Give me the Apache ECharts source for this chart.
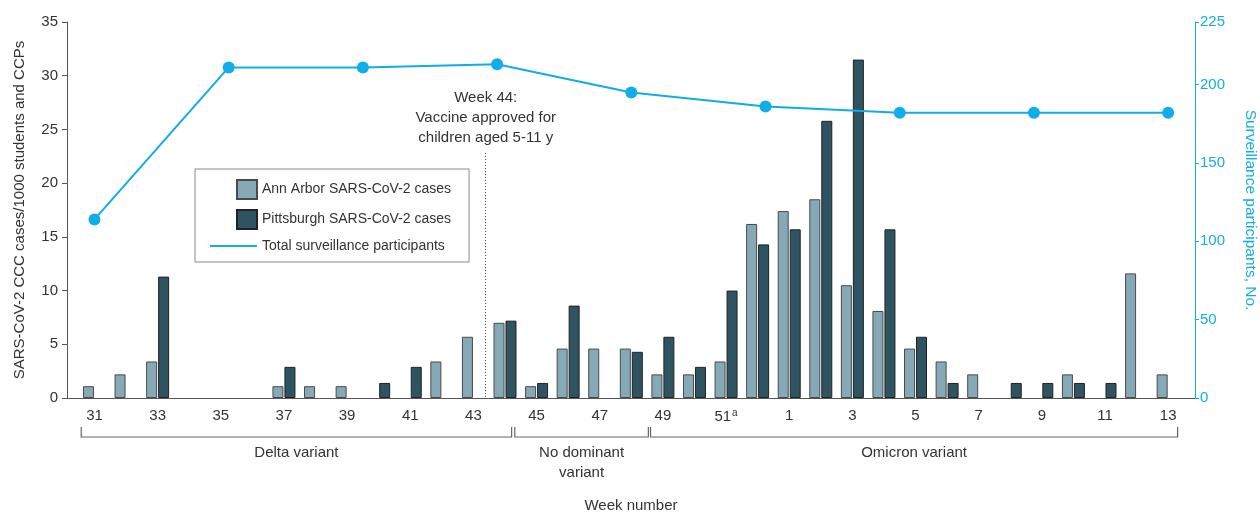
<!DOCTYPE html>
<html>
<head>
<meta charset="utf-8">
<script src="https://cdn.jsdelivr.net/npm/echarts@6/dist/echarts.min.js"></script>
<style>
  html, body { margin: 0; padding: 0; background: #ffffff; }
  #chart { width: 1260px; height: 512px; }
</style>
</head>
<body>
<div id="chart"></div>
<script>
// Week numbers, from week 31 through week 13 of the following year
const weekLabels = ['31','32','33','34','35','36','37','38','39','40','41','42','43','44','45','46','47','48','49','50','51','52',
                    '1','2','3','4','5','6','7','8','9','10','11','12','13'];

// Weekly SARS-CoV-2 CCC cases per 1000 students and CCPs (null = no cases)
const annArborCases = [1.1, 2.2, 3.4, null, null, null, 1.1, 1.1, 1.1, null, null, 3.4, 5.7, 7.0, 1.1, 4.6, 4.6, 4.6, 2.2, 2.2, 3.4, 16.2,
                       17.4, 18.5, 10.5, 8.1, 4.6, 3.4, 2.2, null, null, 2.2, null, 11.6, 2.2];
const pittsburghCases = [null, null, 11.3, null, null, null, 2.9, null, null, 1.4, 2.9, null, null, 7.2, 1.4, 8.6, null, 4.3, 5.7, 2.9, 10.0, 14.3,
                         15.7, 25.8, 31.5, 15.7, 5.7, 1.4, null, 1.4, 1.4, 1.4, 1.4, null, null];

// Total surveillance participants, placed along the week index
const participantWeekPos = [0, 4.25, 8.5, 12.75, 17, 21.25, 25.5, 29.75, 34];
const surveillanceParticipants = [114, 211, 211, 213, 195, 186, 182, 182, 182];

// Axis ticks
const weekTickIndex = [0, 2, 4, 6, 8, 10, 12, 14, 16, 18, 20, 22, 24, 26, 28, 30, 32, 34];
const rightTickValues = [0, 50, 100, 150, 200, 240];
const rightTickLabels = ['0', '50', '100', '150', '200', '225'];

// Dominant-variant periods (week index span)
const phaseNames = ['Delta variant', 'No dominant\nvariant', 'Omicron variant'];
const phaseStart = [-0.42, 13.31, 17.61];
const phaseEnd = [13.21, 17.54, 34.3];

// Week 44 vaccine approval marker
const vaccineEdge = 12.58;
const vaccineNote = 'Week 44:\nVaccine approved for\nchildren aged 5-11 y';

const FONT = '"Liberation Sans", Arial, sans-serif';
const TEXT = '#333333';
const AXIS = '#555555';
const BLUE = '#10ADE8';

const chart = echarts.init(document.getElementById('chart'), null, { renderer: 'canvas' });

const toPairs = arr => arr.map((v, i) => [i, v]);

const option = {
  animation: false,
  textStyle: { fontFamily: FONT },
  grid: { left: 67, right: 65, top: 22, bottom: 114, containLabel: false, outerBoundsMode: 'none' },
  legend: {
    orient: 'vertical',
    left: 195,
    top: 169,
    padding: [10, 18, 9, 14],
    itemGap: 9,
    itemWidth: 47,
    itemHeight: 19,
    borderColor: '#8a8a8a',
    borderWidth: 1,
    backgroundColor: '#ffffff',
    textStyle: { fontFamily: FONT, fontSize: 14, color: TEXT },
    selectedMode: false,
    data: [
      { name: 'Ann Arbor SARS-CoV-2 cases', icon: 'path://M0,0M27,0h20v19h-20z' },
      { name: 'Pittsburgh SARS-CoV-2 cases', icon: 'path://M0,0M27,0h20v19h-20z' },
      { name: 'Total surveillance participants', icon: 'path://M0,8.5h47v2h-47z' }
    ]
  },
  xAxis: {
    type: 'value',
    min: -0.87,
    max: 34.85,
    name: 'Week number',
    nameLocation: 'middle',
    nameGap: 100,
    nameTextStyle: { fontFamily: FONT, fontSize: 15, color: TEXT },
    axisLine: { show: true, onZero: false, lineStyle: { color: AXIS, width: 1 } },
    axisTick: { show: false },
    splitLine: { show: false },
    axisLabel: {
      customValues: weekTickIndex,
      margin: 10,
      fontFamily: FONT,
      fontSize: 15,
      color: TEXT,
      formatter: v => {
        const w = weekLabels[Math.round(v)];
        return w === '51' ? '51{sup|a}' : w;
      },
      rich: { sup: { fontSize: 10, verticalAlign: 'bottom', padding: [0, 0, 8, 1], color: TEXT, fontFamily: FONT } }
    }
  },
  yAxis: [
    {
      type: 'value',
      min: 0,
      max: 35,
      interval: 5,
      name: 'SARS-CoV-2 CCC cases/1000 students and CCPs',
      nameLocation: 'middle',
      nameRotate: 90,
      nameGap: 40,
      nameTextStyle: { fontFamily: FONT, fontSize: 15, color: TEXT },
      axisLine: { show: true, onZero: false, lineStyle: { color: AXIS, width: 1 } },
      axisTick: { show: true, length: 5, lineStyle: { color: AXIS } },
      splitLine: { show: false },
      axisLabel: { fontFamily: FONT, fontSize: 15, color: TEXT, margin: 9 }
    },
    {
      type: 'value',
      min: 0,
      max: 240,
      position: 'right',
      name: 'Surveillance participants, No.',
      nameLocation: 'middle',
      nameRotate: -90,
      nameGap: 47,
      nameTextStyle: { fontFamily: FONT, fontSize: 15.5, color: BLUE },
      axisLine: { show: true, onZero: false, lineStyle: { color: BLUE, width: 1 } },
      axisTick: { show: true, length: 4, customValues: rightTickValues, lineStyle: { color: BLUE } },
      splitLine: { show: false },
      axisLabel: {
        customValues: rightTickValues,
        fontFamily: FONT, fontSize: 15, color: BLUE, margin: 5,
        formatter: v => rightTickLabels[rightTickValues.indexOf(v)]
      }
    }
  ],
  series: [
    {
      name: 'Ann Arbor SARS-CoV-2 cases',
      type: 'bar',
      yAxisIndex: 0,
      barWidth: 11,
      barGap: '9%',
      data: toPairs(annArborCases),
      itemStyle: { color: '#86A9B7', borderColor: '#4a4a4a', borderWidth: 1 },
      markLine: {
        silent: true,
        symbol: 'none',
        label: { show: false },
        lineStyle: { type: [1, 2], color: '#444444', width: 1 },
        data: [[{ coord: [vaccineEdge, 22.8] }, { coord: [vaccineEdge, 0] }]]
      },
      markPoint: {
        silent: true,
        symbol: 'circle',
        symbolSize: 0,
        data: [{ coord: [vaccineEdge, 26.05] }],
        label: {
          show: true,
          position: 'inside',
          formatter: vaccineNote,
          fontFamily: FONT,
          fontSize: 15,
          lineHeight: 20,
          color: TEXT,
          align: 'center'
        }
      }
    },
    {
      name: 'Pittsburgh SARS-CoV-2 cases',
      type: 'bar',
      yAxisIndex: 0,
      barWidth: 11,
      barGap: '9%',
      data: toPairs(pittsburghCases),
      itemStyle: { color: '#2E5462', borderColor: '#222222', borderWidth: 1 }
    },
    {
      name: 'Total surveillance participants',
      type: 'line',
      yAxisIndex: 1,
      data: participantWeekPos.map((x, i) => [x, surveillanceParticipants[i]]),
      symbol: 'circle',
      symbolSize: 12,
      lineStyle: { color: BLUE, width: 2 },
      itemStyle: { color: BLUE },
      z: 5
    },
    {
      // Brackets and labels for the dominant-variant periods, drawn under the week axis
      name: 'phases',
      type: 'custom',
      coordinateSystem: 'cartesian2d',
      silent: true,
      clip: false,
      encode: { x: [0, 1], y: 2 },
      data: phaseNames.map((n, i) => [phaseStart[i], phaseEnd[i], 0]),
      renderItem: (params, api) => {
        const a = api.coord([api.value(0), 0]);
        const b = api.coord([api.value(1), 0]);
        const y0 = a[1];
        return {
          type: 'group',
          children: [
            {
              type: 'polyline',
              shape: { points: [[a[0], y0 + 29], [a[0], y0 + 39], [b[0], y0 + 39], [b[0], y0 + 29]] },
              style: { stroke: '#666666', lineWidth: 1.2, fill: null }
            },
            {
              type: 'text',
              style: {
                x: (a[0] + b[0]) / 2,
                y: y0 + 45,
                text: phaseNames[params.dataIndex],
                align: 'center',
                verticalAlign: 'top',
                fontFamily: FONT,
                fontSize: 15,
                lineHeight: 20,
                fill: TEXT
              }
            }
          ]
        };
      }
    }
  ]
};

chart.setOption(option);
</script>
</body>
</html>
